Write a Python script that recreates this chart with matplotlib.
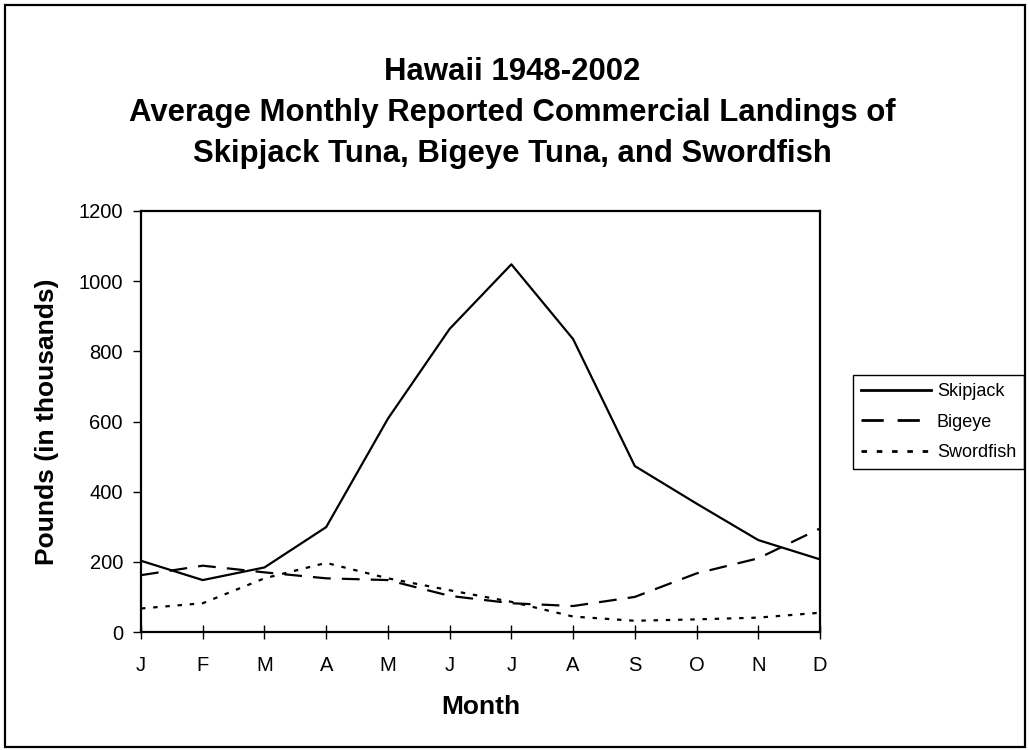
import matplotlib.pyplot as plt
from matplotlib.patches import Rectangle

plt.rcParams['font.family'] = ['Liberation Sans', 'DejaVu Sans']

# data (thousands of pounds)
months = ['J', 'F', 'M', 'A', 'M', 'J', 'J', 'A', 'S', 'O', 'N', 'D']
skipjack = [203, 148, 184, 299, 608, 864, 1048, 835, 473, 366, 262, 207]
bigeye = [162, 189, 170, 153, 148, 103, 82, 74, 100, 167, 210, 295]
swordfish = [67, 82, 153, 197, 153, 119, 86, 44, 32, 36, 41, 55]

fig = plt.figure(figsize=(10.3, 7.5), dpi=100)
ax = fig.add_axes([141 / 1030, 118 / 750, 679 / 1030, 421 / 750])

x = range(len(months))
ax.plot(x, skipjack, color='black', lw=1.6, label='Skipjack')
ax.plot(x, bigeye, color='black', lw=1.6, dashes=(8, 5), label='Bigeye')
ax.plot(x, swordfish, color='black', lw=1.6, dashes=(2, 3.5), label='Swordfish')

ax.set_xlim(0, 11)
ax.set_ylim(0, 1200)
ax.set_xticks(list(x))
ax.set_xticklabels(months)
ax.set_yticks(range(0, 1201, 200))

for s in ax.spines.values():
    s.set_linewidth(1.6)
ax.tick_params(axis='x', direction='inout', length=10, width=1, labelsize=14.5, pad=12)
ax.tick_params(axis='y', direction='out', length=6, width=1, labelsize=14.5, pad=7)

ax.set_xlabel('Month', fontsize=19, fontweight='bold')
ax.xaxis.set_label_coords(0.5, -0.150)
ax.set_ylabel('Pounds (in thousands)', fontsize=19, fontweight='bold')
ax.yaxis.set_label_coords(-0.121, 0.5)

fig.text(0.497, 1 - 72 / 750, 'Hawaii 1948-2002', ha='center', va='center',
         fontsize=22.4, fontweight='bold')
fig.text(0.497, 1 - 113 / 750, 'Average Monthly Reported Commercial Landings of',
         ha='center', va='center', fontsize=22.4, fontweight='bold')
fig.text(0.497, 1 - 154 / 750, 'Skipjack Tuna, Bigeye Tuna, and Swordfish',
         ha='center', va='center', fontsize=22.4, fontweight='bold')

leg = ax.legend(loc='upper left', bbox_to_anchor=(853 / 1030, 1 - 375 / 750),
                bbox_transform=fig.transFigure, fontsize=13, frameon=True,
                fancybox=False, framealpha=1, edgecolor='black',
                handlelength=3.9, handletextpad=0.3, labelspacing=0.76,
                borderpad=0.44, borderaxespad=0)
leg.get_frame().set_linewidth(1)
for h in leg.get_lines():
    h.set_linewidth(2)

fig.patches.append(Rectangle((5 / 1030, 3 / 750), 1020 / 1030, 742 / 750,
                             transform=fig.transFigure, fill=False,
                             edgecolor='black', lw=1.6))

fig.savefig('out.png', dpi=100)
